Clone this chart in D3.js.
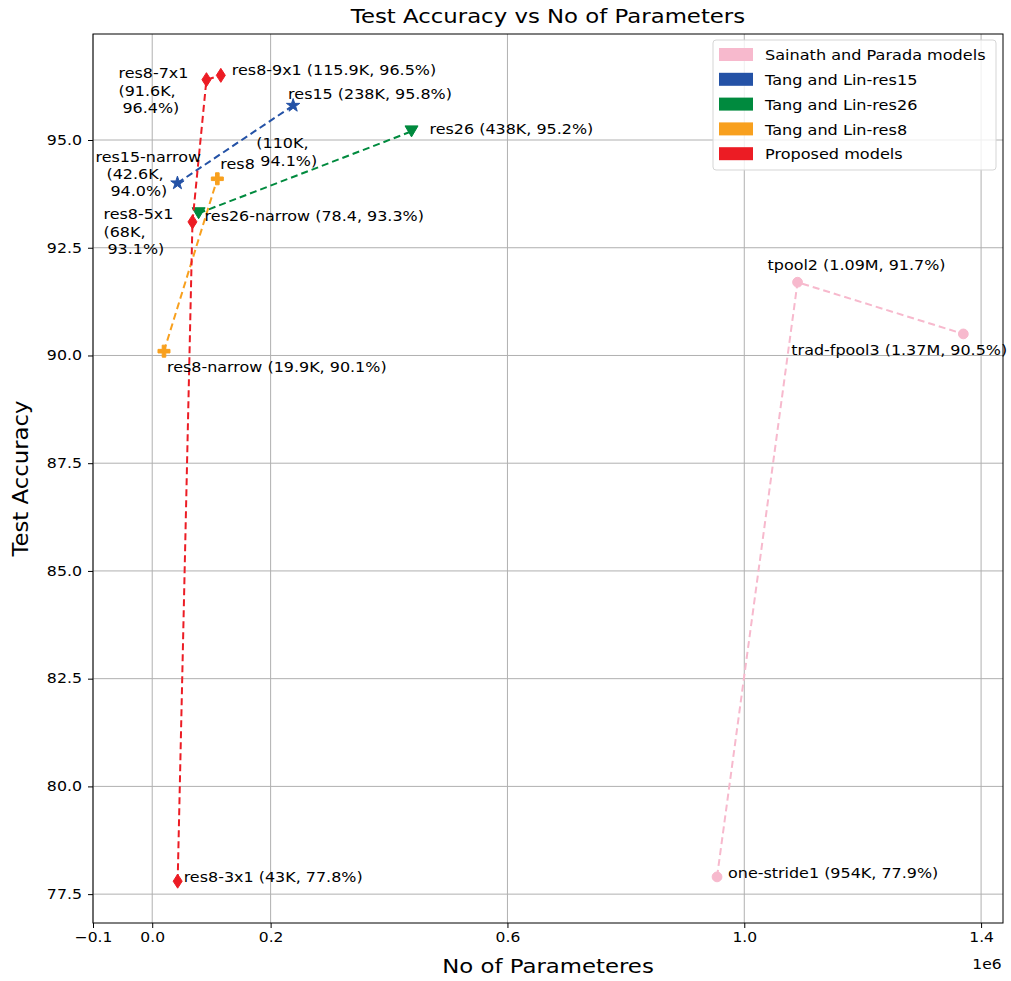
<!DOCTYPE html>
<html>
<head>
<meta charset="utf-8">
<script src="https://cdn.jsdelivr.net/npm/d3@7"></script>
<style>
  body { margin: 0; background: #fff; }
  svg { font-family: 'DejaVu Sans', sans-serif; }
</style>
</head>
<body>
<div id="chart"></div>
<script>
// series names and colours
var groups = ['Sainath and Parada models', 'Tang and Lin-res15', 'Tang and Lin-res26', 'Tang and Lin-res8', 'Proposed models']
var colors = ['#f7b9cd', '#2452a6', '#008a3e', '#f8a01e', '#ec1c24']

// models in each series (params, test accuracy %)
var sainathNames = ['one-stride1', 'tpool2', 'trad-fpool3']
var sainathParams = [954000, 1090000, 1370000]
var sainathAcc = [77.9, 91.7, 90.5]

var res15Names = ['res15-narrow', 'res15']
var res15Params = [42600, 238000]
var res15Acc = [94.0, 95.8]

var res26Names = ['res26-narrow', 'res26']
var res26Params = [78400, 438000]
var res26Acc = [93.3, 95.2]

var res8Names = ['res8-narrow', 'res8']
var res8Params = [19900, 110000]
var res8Acc = [90.1, 94.1]

var propNames = ['res8-3x1', 'res8-5x1', 'res8-7x1', 'res8-9x1']
var propParams = [43000, 68000, 91600, 115900]
var propAcc = [77.8, 93.1, 96.4, 96.5]

// axis ticks
var xTicks = [-100000, 0, 200000, 600000, 1000000, 1400000]
var xTickLabels = ['\u22120.1', '0.0', '0.2', '0.6', '1.0', '1.4']
var yTicks = [77.5, 80.0, 82.5, 85.0, 87.5, 90.0, 92.5, 95.0]

// annotation text, lines and offsets from the point (px)
var labels = {
	'one-stride1': [['one-stride1 (954K, 77.9%)', 11, -4]],
	'tpool2': [['tpool2 (1.09M, 91.7%)', -30, -17]],
	'trad-fpool3': [['trad-fpool3 (1.37M, 90.5%)', -172, 16]],
	'res15-narrow': [['res15-narrow', -82, -26], ['(42.6K,', -71, -9], ['94.0%)', -67, 8]],
	'res15': [['res15 (238K, 95.8%)', -5, -12]],
	'res26-narrow': [['res26-narrow (78.4, 93.3%)', 6, 3]],
	'res26': [['res26 (438K, 95.2%)', 18, -3]],
	'res8-narrow': [['res8-narrow (19.9K, 90.1%)', 3, 16]],
	'res8': [['res8', 3, -15], ['(110K,', 39, -36], ['94.1%)', 43, -18]],
	'res8-3x1': [['res8-3x1 (43K, 77.8%)', 6, -4]],
	'res8-5x1': [['res8-5x1', -89, -8], ['(68K,', -89, 10], ['93.1%)', -85, 27]],
	'res8-7x1': [['res8-7x1', -88, -7], ['(91.6K,', -88, 11], ['96.4%)', -84, 28]],
	'res8-9x1': [['res8-9x1 (115.9K, 96.5%)', 11, -6]]
}

function makeSeries(names, params, acc, gi, marker) {
	return {
		name: groups[gi],
		color: colors[gi],
		marker: marker,
		points: names.map((n, i) => ({ name: n, x: params[i], y: acc[i] }))
	}
}

var series = [
	makeSeries(sainathNames, sainathParams, sainathAcc, 0, 'circle'),
	makeSeries(res15Names, res15Params, res15Acc, 1, 'star'),
	makeSeries(res26Names, res26Params, res26Acc, 2, 'tri'),
	makeSeries(res8Names, res8Params, res8Acc, 3, 'plus'),
	makeSeries(propNames, propParams, propAcc, 4, 'diamond')
]

var width = 1011
var height = 981
var margin = { top: 34, right: 8, bottom: 58, left: 93 }

var svg = d3.select('#chart').append('svg')
	.attr('width', width)
	.attr('height', height)

// the reference text is a bit stretched, scale each text around its anchor
function stretch(sel, sx, sy) {
	sel.each(function() {
		var t = d3.select(this)
		var tx = +t.attr('x') || 0
		var ty = +t.attr('y') || 0
		var prev = t.attr('transform') || ''
		t.attr('transform', `${prev} translate(${tx},${ty}) scale(${sx},${sy}) translate(${-tx},${-ty})`)
	})
}

var x = d3.scaleLinear()
	.domain([-100000, 1437000])
	.range([margin.left, width - margin.right])

var y = d3.scaleLinear()
	.domain([76.83, 97.46])
	.range([height - margin.bottom, margin.top])

// grid
svg.append('g')
	.selectAll('line')
	.data(xTicks)
	.enter()
	.append('line')
	.attr('x1', d => x(d)).attr('x2', d => x(d))
	.attr('y1', margin.top).attr('y2', height - margin.bottom)
	.attr('stroke', '#b0b0b0')
	.attr('stroke-width', 1)

svg.append('g')
	.selectAll('line')
	.data(yTicks)
	.enter()
	.append('line')
	.attr('x1', margin.left).attr('x2', width - margin.right)
	.attr('y1', d => y(d)).attr('y2', d => y(d))
	.attr('stroke', '#b0b0b0')
	.attr('stroke-width', 1)

// axes
var xAxis = svg.append('g')
	.attr('transform', `translate(0,${height - margin.bottom})`)
	.call(d3.axisBottom(x).tickValues(xTicks).tickFormat((d, i) => xTickLabels[i]).tickSize(5).tickPadding(4))
var yAxis = svg.append('g')
	.attr('transform', `translate(${margin.left},0)`)
	.call(d3.axisLeft(y).tickValues(yTicks).tickFormat(d3.format('.1f')).tickSize(5).tickPadding(6))

;[xAxis, yAxis].forEach(a => {
	a.select('.domain').remove()
	a.selectAll('line').attr('stroke', '#000')
	a.selectAll('text')
		.attr('font-family', 'DejaVu Sans')
		.attr('font-size', 13.5)
		.attr('fill', '#000')
})
stretch(xAxis.selectAll('text'), 1.15, 1.05)
stretch(yAxis.selectAll('text'), 1.17, 1)

// frame
svg.append('rect')
	.attr('x', margin.left).attr('y', margin.top)
	.attr('width', width - margin.left - margin.right)
	.attr('height', height - margin.top - margin.bottom)
	.attr('fill', 'none')
	.attr('stroke', '#000')
	.attr('stroke-width', 1)

// markers
function markerPath(kind) {
	if (kind === 'circle') return d3.symbol(d3.symbolCircle, 75)()
	if (kind === 'star') return d3.symbol(d3.symbolStar, 55)()
	if (kind === 'tri') return 'M-6.5,-5.5L6.5,-5.5L0,5.5Z'
	if (kind === 'plus') return 'M-1.8,-6H1.8V-1.8H6V1.8H1.8V6H-1.8V1.8H-6V-1.8H-1.8Z'
	return 'M0,-7L4.5,0L0,7L-4.5,0Z'
}

var line = d3.line().x(d => x(d.x)).y(d => y(d.y))

var sg = svg.append('g').selectAll('g')
	.data(series)
	.enter()
	.append('g')

sg.append('path')
	.attr('d', d => line(d.points))
	.attr('fill', 'none')
	.attr('stroke', d => d.color)
	.attr('stroke-width', 2)
	.attr('stroke-dasharray', '7,4')

sg.each(function(s) {
	d3.select(this).selectAll('path.mk')
		.data(s.points)
		.enter()
		.append('path')
		.attr('class', 'mk')
		.attr('d', markerPath(s.marker))
		.attr('transform', d => `translate(${x(d.x)},${y(d.y)})`)
		.attr('fill', s.color)
		.attr('stroke', s.color)
		.attr('stroke-width', 1)
})

// annotations
var annot = []
series.forEach(s => s.points.forEach(p => {
	(labels[p.name] || []).forEach(l => annot.push({ text: l[0], x: x(p.x) + l[1], y: y(p.y) + l[2] }))
}))

var annotText = svg.append('g').selectAll('text')
	.data(annot)
	.enter()
	.append('text')
	.attr('x', d => d.x)
	.attr('y', d => d.y)
	.attr('dy', '0.35em')
	.attr('font-size', 14)
	.attr('fill', '#000')
	.text(d => d.text)
stretch(annotText, 1.14, 1.05)

// legend
var legend = svg.append('g')
	.attr('transform', 'translate(713,40)')

legend.append('rect')
	.attr('width', 283).attr('height', 130)
	.attr('rx', 3)
	.attr('fill', '#fff')
	.attr('fill-opacity', 0.8)
	.attr('stroke', '#d5d5d5')

legend.selectAll('rect.sw')
	.data(series)
	.enter()
	.append('rect')
	.attr('class', 'sw')
	.attr('x', 6)
	.attr('y', (d, i) => 8 + i * 24.8)
	.attr('width', 34)
	.attr('height', 13)
	.attr('fill', d => d.color)

var legText = legend.selectAll('text')
	.data(series)
	.enter()
	.append('text')
	.attr('x', 52)
	.attr('y', (d, i) => 15 + i * 24.8)
	.attr('dy', '0.35em')
	.attr('font-size', 14)
	.text(d => d.name)
stretch(legText, 1.15, 1.05)

// titles
var title = svg.append('text')
	.attr('x', (margin.left + width - margin.right) / 2)
	.attr('y', 23)
	.attr('text-anchor', 'middle')
	.attr('font-size', 19.5)
	.text('Test Accuracy vs No of Parameters')
stretch(title, 1.17, 1)

var xLabel = svg.append('text')
	.attr('x', (margin.left + width - margin.right) / 2)
	.attr('y', 973)
	.attr('text-anchor', 'middle')
	.attr('font-size', 19.5)
	.text('No of Parameteres')
stretch(xLabel, 1.17, 1)

var e6 = svg.append('text')
	.attr('x', 987)
	.attr('y', 969)
	.attr('text-anchor', 'middle')
	.attr('font-size', 13.5)
	.text('1e6')
stretch(e6, 1.15, 1.05)

svg.append('text')
	.attr('transform', `translate(28,${(margin.top + height - margin.bottom) / 2}) rotate(-90) scale(1.17,1.1)`)
	.attr('text-anchor', 'middle')
	.attr('font-size', 19.5)
	.text('Test Accuracy')
</script>
</body>
</html>
